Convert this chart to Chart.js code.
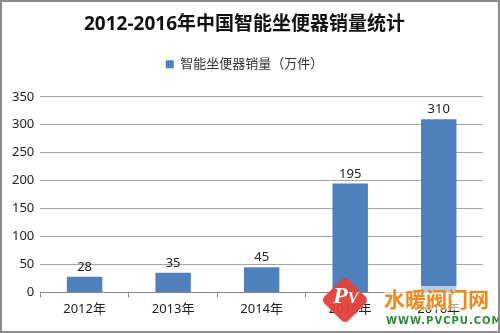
<!DOCTYPE html>
<html>
<head>
<meta charset="utf-8">
<script src="https://cdn.jsdelivr.net/npm/chart.js@4.4.1/dist/chart.umd.min.js"></script>
<style>
  html, body { margin: 0; padding: 0; background: #fff; }
  #wrap { position: relative; width: 500px; height: 333px; box-sizing: border-box; border: 2px solid #8c8c8c; overflow: hidden; }
  canvas { display: block; }
  .wm { position: absolute; white-space: nowrap; font-family: "Noto Sans CJK SC", sans-serif; }
  #logo { left: 326px; top: 281px; width: 34px; height: 34px; background: #e0413a; transform: rotate(45deg); border-radius: 5px; opacity: 0.95; }
  #logoTxt { left: 331px; top: 280px; color: #fff; font: italic bold 24px "Liberation Serif", serif; }
  #wmName { left: 382px; top: 284px; color: #f08a1e; font-size: 21px; line-height: 24px; font-weight: bold; background: rgba(255,255,255,0.6); }
  #wmUrl { left: 384px; top: 313px; color: #2f8a3a; font: bold 10px "DejaVu Sans", sans-serif; letter-spacing: 1px; }
</style>
</head>
<body>
<div id="wrap">
  <canvas id="chart" width="496" height="329"></canvas>
  <div class="wm" id="logo"></div>
  <div class="wm" id="logoTxt">P<span style="font-size:16px">V</span></div>
  <div class="wm" id="wmName">水暖阀门网</div>
  <div class="wm" id="wmUrl">WWW.PVCPU.COM</div>
</div>
<script>
// chart data
const years = ["2012年", "2013年", "2014年", "2015年", "2016年"];
const sales = [28, 35, 45, 195, 310];
const seriesName = "智能坐便器销量（万件）";
const chartTitle = "2012-2016年中国智能坐便器销量统计";

const baseFont = '"Noto Sans", "Noto Sans CJK SC", sans-serif';

// draw the value above each bar
const valueLabels = {
  id: "valueLabels",
  afterDatasetsDraw(chart) {
    const ctx = chart.ctx;
    const meta = chart.getDatasetMeta(0);
    ctx.save();
    ctx.font = "13px " + baseFont;
    ctx.fillStyle = "#222";
    ctx.textAlign = "center";
    ctx.textBaseline = "bottom";
    meta.data.forEach((bar, i) => {
      ctx.fillText(sales[i], bar.x, bar.y - 3);
    });
    ctx.restore();
  }
};

new Chart(document.getElementById("chart").getContext("2d"), {
  type: "bar",
  data: {
    labels: years,
    datasets: [
      {
        label: seriesName,
        data: sales,
        backgroundColor: "#4f81bd",
        borderWidth: 0,
        categoryPercentage: 1.0,
        barPercentage: 0.4,
      },
    ],
  },
  options: {
    responsive: false,
    animation: false,
    layout: { padding: { left: 4, right: 15, top: 7, bottom: 10 } },
    plugins: {
      title: {
        display: true,
        text: chartTitle,
        color: "#111",
        font: { family: baseFont, size: 19, weight: "bold" },
        padding: { top: 4, bottom: 10 },
      },
      legend: {
        labels: {
          color: "#333",
          font: { family: baseFont, size: 13 },
          boxWidth: 8,
          boxHeight: 8,
          padding: 12,
        },
      },
      tooltip: { enabled: false },
    },
    scales: {
      x: {
        grid: { display: true, drawOnChartArea: false, tickLength: 5, color: "#888", offset: true },
        border: { color: "#888" },
        ticks: { color: "#222", font: { family: baseFont, size: 13 }, padding: 4 },
      },
      y: {
        min: 0,
        max: 350,
        ticks: { stepSize: 50, color: "#222", font: { family: baseFont, size: 13 }, padding: 6 },
        grid: { color: "#a6a6a6", tickLength: 0 },
        border: { display: false },
      },
    },
  },
  plugins: [
    valueLabels,
    {
      id: "legendGap",
      beforeInit(chart) {
        const fit = chart.legend.fit;
        chart.legend.fit = function () {
          fit.bind(chart.legend)();
          this.height += 16;
        };
      },
    },
  ],
});
</script>
</body>
</html>
